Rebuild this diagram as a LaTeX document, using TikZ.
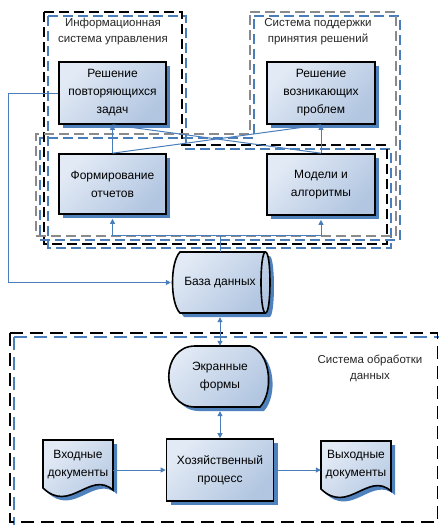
\documentclass[tikz,border=0pt]{standalone}
\usepackage{fontspec}
\setmainfont{Liberation Sans}
\usetikzlibrary{arrows.meta,shadows}

\definecolor{shadowblue}{HTML}{4F81BD}
\definecolor{linkblue}{HTML}{4A7EBB}
\definecolor{fillhi}{HTML}{E2EAF5}
\definecolor{filllo}{HTML}{B2C6E1}
\definecolor{framegray}{HTML}{8A8A8A}

\tikzset{
  boxtext/.style={font=\fontsize{12}{18}\selectfont, align=center, text=black},
  grouptext/.style={font=\fontsize{11.5}{16.5}\selectfont, align=center, text=black!85},
  gradfill/.style={top color=fillhi, bottom color=filllo, shading angle=45},
  outline/.style={draw=black, line width=1.6pt},
  task/.style={boxtext, outline, gradfill, inner sep=0pt,
    minimum width=107pt, minimum height=62pt,
    drop shadow={shadow xshift=4pt, shadow yshift=-4pt, opacity=1, fill=shadowblue}},
  area/.style={boxtext, inner sep=0pt},
  frameblk/.style={draw=black, line width=1.9pt, dash pattern=on 10pt off 5pt},
  framegry/.style={draw=framegray, line width=1.9pt, dash pattern=on 10pt off 5pt},
  frameblu/.style={draw=linkblue, line width=1.5pt, dash pattern=on 10pt off 5pt},
  frameblkwide/.style={draw=black, line width=1.9pt, dash pattern=on 13pt off 7pt},
  framebluwide/.style={draw=linkblue, line width=1.5pt, dash pattern=on 13pt off 7pt},
  conn/.style={draw=linkblue, line width=1pt},
  docshape/.pic={
    \fill[shadowblue] (4,4) -- (74,4) -- (74,54) .. controls (51,34) and (31,78) .. (4,52) -- cycle;
    \draw[outline, gradfill] (0,0) -- (70,0) -- (70,50) .. controls (47,30) and (27,74) .. (0,48) -- cycle;
  }
}

\begin{document}
\begin{tikzpicture}[x=1pt, y=-1pt, >={Triangle[length=5pt,width=5pt]}]
\useasboundingbox (0,0) rectangle (439,525);

% information management system (L-shaped frame)
\draw[frameblu] (48,16) -- (186,16) -- (186,149) -- (391,149) -- (391,248) -- (48,248) -- cycle;
\draw[frameblk] (44,12) -- (182,12) -- (182,145) -- (387,145) -- (387,244) -- (44,244) -- cycle;
% decision support system (inverted L frame)
\draw[frameblu] (254,16) -- (400,16) -- (400,240) -- (40,240) -- (40,138) -- (254,138) -- cycle;
\draw[framegry] (250,12) -- (396,12) -- (396,236) -- (36,236) -- (36,134) -- (250,134) -- cycle;
% data processing system
\draw[framebluwide] (14,337) rectangle (441.5,526);
\draw[frameblkwide] (10,333) rectangle (437.5,522);

% group titles
\node[grouptext] (tisu) at (113,31.5) {Информационная\\система управления};
\node[grouptext] (tsppr) at (318,31.5) {Система поддержки\\принятия решений};
\node[grouptext] (tsod) at (370,368.5) {Система обработки\\данных};

% process boxes
\node[task] (rpz) at (112.5,93) {Решение\\повторяющихся\\задач};
\node[task, minimum width=108pt] (rvp) at (321,93) {Решение\\возникающих\\проблем};
\node[task, minimum height=60pt] (fo) at (112.5,184) {Формирование\\отчетов};
\node[task, minimum width=108pt, minimum height=61pt] (ma) at (321,184.5) {Модели и\\алгоритмы};
\node[task] (hp) at (220,470) {Хозяйственный\\процесс};

% database (horizontal storage drum)
\fill[shadowblue, shift={(4,4)}] (180,252) -- (265.5,252)
  .. controls (271.5,252) and (271.5,313) .. (265.5,313) -- (180,313)
  .. controls (170,303) and (170,262) .. cycle;
\draw[outline, gradfill] (180,252) -- (265.5,252)
  .. controls (271.5,252) and (271.5,313) .. (265.5,313) -- (180,313)
  .. controls (170,303) and (170,262) .. cycle;
\draw[outline] (265.5,252) .. controls (259.5,252) and (259.5,313) .. (265.5,313);
\node[area, minimum width=98pt, minimum height=61pt] (db) at (220,282.5) {База данных};

% display (screen forms)
\fill[shadowblue, shift={(4,4)}] (195,346) -- (250,346)
  .. controls (271,352) and (274,392) .. (260,407) -- (195,407)
  .. controls (160,407) and (160,346) .. cycle;
\draw[outline, gradfill] (195,346) -- (250,346)
  .. controls (271,352) and (274,392) .. (260,407) -- (195,407)
  .. controls (160,407) and (160,346) .. cycle;
\node[area, minimum width=100pt, minimum height=61pt] (ef) at (220,376.5) {Экранные\\формы};

% documents
\pic at (43,440) {docshape};
\node[area, minimum width=70pt, minimum height=60pt] (vd) at (78,470) {};
\node[boxtext] (vdtext) at (78,465) {Входные\\документы};
\pic at (321,441) {docshape};
\node[area, minimum width=70pt, minimum height=60pt] (vyd) at (356,470) {};
\node[boxtext] (vydtext) at (356,465) {Выходные\\документы};

% connectors
\draw[conn,->] (rpz.west) -- ++(-50,0) |- (db.west);
\draw[conn] (fo.north) -- (rvp.south);
\draw[conn] (ma.north) -- (rpz.south);
\draw[conn,->] (fo.north) -- (rpz.south);
\draw[conn,->] (ma.north) -- (rvp.south);
\draw[conn,->,shorten >=4pt] (db.north) -- ++(0,-16) -| (fo.south);
\draw[conn,->,shorten >=4pt] (db.north) -- ++(0,-16) -| (ma.south);
\draw[conn,<->,shorten <=4pt] (db.south) -- (ef.north);
\draw[conn,<->,shorten <=4pt] (ef.south) -- (hp.north);
\draw[conn,->] (vd.east) -- (hp.west);
\draw[conn,->] (hp.east) -- (vyd.west);
\end{tikzpicture}
\end{document}
